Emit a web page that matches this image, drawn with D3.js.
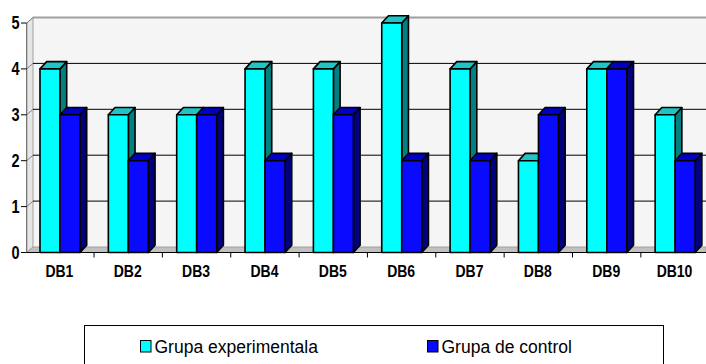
<!DOCTYPE html>
<html>
<head>
<meta charset="utf-8">
<script src="https://cdn.jsdelivr.net/npm/d3@7"></script>
<style>
  html, body { margin: 0; padding: 0; background: #ffffff; }
  svg { display: block; }
  text { font-family: "Liberation Sans", Arial, sans-serif; }
</style>
</head>
<body>
<svg id="chart" width="706" height="364"></svg>
<script>
// Scores per test, two groups
const categories = ["DB1", "DB2", "DB3", "DB4", "DB5", "DB6", "DB7", "DB8", "DB9", "DB10"];
const experimental = [4, 3, 3, 4, 4, 5, 4, 2, 4, 3];
const control = [3, 2, 3, 2, 3, 2, 2, 3, 4, 2];
const yTicks = [0, 1, 2, 3, 4, 5];
const seriesNames = ["Grupa experimentala", "Grupa de control"];

const series = [
  { name: seriesNames[0], values: experimental, front: "#00ffff", side: "#008080", top: "#1fc4c4" },
  { name: seriesNames[1], values: control, front: "#0a0aff", side: "#000080", top: "#0000c4" }
];

const svg = d3.select("#chart");

// Pseudo-3D geometry: front plane and depth offset of the walls
const frontLeft = 26.7, plotRight = 706;
const wallDx = 6.3, wallDy = -5.5;
const barDx = 6.7, barDy = -7.3;

const y = d3.scaleLinear().domain([0, 5]).range([252.5, 23]);
const yBack = v => y(v) + wallDy;

const x = d3.scaleBand().domain(categories).range([25.7, 25.7 + 68.35 * categories.length]);
const inner = d3.scaleBand().domain(d3.range(series.length)).range([14.3, 54.3]);

// Back wall
svg.append("rect")
  .attr("x", frontLeft + wallDx).attr("y", yBack(5))
  .attr("width", plotRight - frontLeft - wallDx).attr("height", yBack(0) - yBack(5))
  .attr("fill", "#f5f5f5");

// Left wall
svg.append("path")
  .attr("d", `M${frontLeft},${y(0)} L${frontLeft + wallDx},${yBack(0)} L${frontLeft + wallDx},${yBack(5)} L${frontLeft},${y(5)} Z`)
  .attr("fill", "#e6e6e6").attr("stroke", "#a0a0a0").attr("stroke-width", 1);

// Floor
svg.append("path")
  .attr("d", `M${frontLeft},${y(0)} L${frontLeft + wallDx},${yBack(0)} L${plotRight},${yBack(0)} L${plotRight},${y(0)} Z`)
  .attr("fill", "#c0c0c0").attr("stroke", "#a0a0a0").attr("stroke-width", 1);

// Top edge of back wall
svg.append("line")
  .attr("x1", frontLeft + wallDx).attr("x2", plotRight)
  .attr("y1", yBack(5)).attr("y2", yBack(5))
  .attr("stroke", "#a0a0a0").attr("stroke-width", 2);

// Gridlines on back wall and left wall
const grid = yTicks.filter(v => v > 0 && v < 5);
svg.append("g").selectAll("line").data(grid).join("line")
  .attr("x1", frontLeft + wallDx).attr("x2", plotRight)
  .attr("y1", d => yBack(d)).attr("y2", d => yBack(d))
  .attr("stroke", "#000").attr("stroke-width", 1);
svg.append("g").selectAll("line").data(yTicks.filter(v => v > 0)).join("line")
  .attr("x1", frontLeft).attr("x2", frontLeft + wallDx)
  .attr("y1", d => y(d)).attr("y2", d => yBack(d))
  .attr("stroke", "#808080").attr("stroke-width", 1);

// Bars
const bars = svg.append("g");
categories.forEach((cat, i) => {
  series.forEach((s, j) => {
    const v = s.values[i];
    const x0 = x(cat) + inner(j);
    const w = inner.bandwidth();
    const yt = y(v), yb = y(0);
    const g = bars.append("g")
      .attr("stroke", "#000").attr("stroke-width", 1.6).attr("stroke-linejoin", "round");
    g.append("path")
      .attr("d", `M${x0 + w},${yt} L${x0 + w + barDx},${yt + barDy} L${x0 + w + barDx},${yb + barDy} L${x0 + w},${yb} Z`)
      .attr("fill", s.side);
    g.append("path")
      .attr("d", `M${x0},${yt} L${x0 + barDx},${yt + barDy} L${x0 + w + barDx},${yt + barDy} L${x0 + w},${yt} Z`)
      .attr("fill", s.top);
    g.append("rect")
      .attr("x", x0).attr("y", yt).attr("width", w).attr("height", yb - yt)
      .attr("fill", s.front);
  });
});

// Front axes
svg.append("line")
  .attr("x1", frontLeft).attr("x2", plotRight)
  .attr("y1", y(0)).attr("y2", y(0))
  .attr("stroke", "#000").attr("stroke-width", 1.2);
svg.append("line")
  .attr("x1", frontLeft).attr("x2", frontLeft)
  .attr("y1", y(0)).attr("y2", y(5))
  .attr("stroke", "#6a6a6a").attr("stroke-width", 1);

// Y ticks and labels
const yAxis = svg.append("g");
yAxis.selectAll("line").data(yTicks).join("line")
  .attr("x1", 21).attr("x2", frontLeft)
  .attr("y1", d => y(d)).attr("y2", d => y(d))
  .attr("stroke", "#000").attr("stroke-width", 1);
yAxis.selectAll("text").data(yTicks).join("text")
  .attr("transform", d => `translate(19.5,${y(d) + 6}) scale(1,1.3)`)
  .attr("text-anchor", "end")
  .attr("font-size", 14.5).attr("font-weight", "bold").attr("fill", "#000")
  .text(d => d);

// X ticks and labels
const xAxis = svg.append("g");
xAxis.selectAll("line").data(categories.slice(1)).join("line")
  .attr("x1", d => x(d)).attr("x2", d => x(d))
  .attr("y1", y(0)).attr("y2", y(0) + 5)
  .attr("stroke", "#000").attr("stroke-width", 1);
xAxis.selectAll("text").data(categories).join("text")
  .attr("transform", d => `translate(${x(d) + x.bandwidth() / 2 - 0.5},${276.5}) scale(1,1.15)`)
  .attr("text-anchor", "middle")
  .attr("font-size", 14).attr("font-weight", "bold").attr("fill", "#000")
  .text(d => d);

// Legend
const legend = svg.append("g");
legend.append("rect")
  .attr("x", 84.5).attr("y", 325.5).attr("width", 579).attr("height", 45)
  .attr("fill", "#fff").attr("stroke", "#000").attr("stroke-width", 1);
const legendX = [140.5, 427.5];
series.forEach((s, j) => {
  legend.append("rect")
    .attr("x", legendX[j]).attr("y", 340.5).attr("width", 10.5).attr("height", 11.5)
    .attr("fill", s.front).attr("stroke", "#000").attr("stroke-width", 1);
  legend.append("text")
    .attr("x", legendX[j] + 14).attr("y", 353)
    .attr("font-size", 17.5).attr("fill", "#000")
    .text(s.name);
});
</script>
</body>
</html>
